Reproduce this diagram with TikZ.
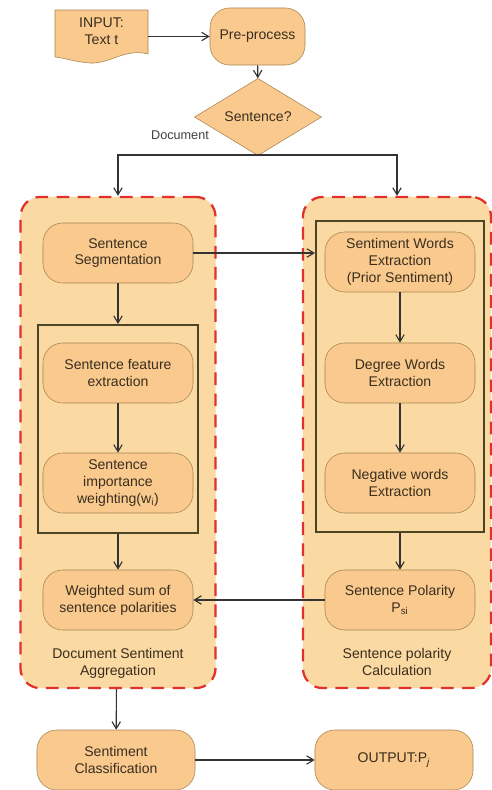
\documentclass[tikz,border=0pt]{standalone}
\usepackage{fontspec}
\setmainfont{Liberation Sans}
\usepackage{tikz}
\usetikzlibrary{arrows.meta,positioning,shapes.geometric,calc}
\usepackage{xcolor}
\definecolor{boxfill}{HTML}{F9C98E}
\definecolor{boxline}{HTML}{A98550}
\definecolor{grpfill}{HTML}{FBD9A2}
\definecolor{grpline}{HTML}{E0312B}
\definecolor{inline}{HTML}{4B4524}
\definecolor{txt}{HTML}{3A2E1E}

\begin{document}
\begin{tikzpicture}[x=0.025cm, y=-0.025cm,
        proc/.style={draw=boxline, rounded corners=14pt, fill=boxfill, minimum width=3.75cm, minimum height=1.5cm, align=center, font=\fontsize{10}{12}\selectfont, text=txt, inner sep=2pt},
        group/.style={draw=grpline, line width=1.6pt, dash pattern=on 9pt off 6pt, rounded corners=14pt, fill=grpfill},
        inbox/.style={draw=inline, line width=1.4pt},
        decision/.style={draw=boxline, diamond, fill=boxfill, minimum width=3.175cm, minimum height=1.175cm, inner sep=0pt, text=txt, font=\fontsize{10}{12}\selectfont},
        grplabel/.style={align=center, text=txt, font=\fontsize{10}{12}\selectfont},
        arr/.style={-{Straight Barb[length=5pt,width=6pt]}, draw=black!80, line width=0.8pt}
    ]
    \useasboundingbox (0,0) rectangle (492,790);
    % Gruppi
    \node[group, minimum width=4.875cm, minimum height=12.275cm] (lgrp) at (118,442.5) {};
    \node[group, minimum width=4.7cm, minimum height=12.275cm] (rgrp) at (397,442.5) {};
    \node[inbox, minimum width=4cm, minimum height=5.2cm] (lin) at (118,429) {};
    \node[inbox, minimum width=4.2cm, minimum height=7.775cm] (rin) at (400,376.5) {};
    % Ingresso
    \fill[boxfill, draw=boxline] (55,10) -- (148,10) -- (148,54)
        .. controls (125,48) and (110,64) .. (90,63)
        .. controls (75,62) and (65,58) .. (55,57) -- cycle;
    \node[align=center, text=txt, font=\fontsize{10}{12}\selectfont, minimum width=2.325cm, minimum height=1.2cm] (input) at (101.5,31) {INPUT:\\Text t};
    \node[proc, minimum width=2.375cm, minimum height=1.425cm] (pre) at (257.5,36.5) {Pre-process};
    \node[decision] (dec) at (258,117) {Sentence?};
    \node[font=\fontsize{9}{11}\selectfont, text=black!75] (doc) at (180,135) {Document};
    \coordinate (split) at (258,155);
    % Sinistra
    \node[proc] (seg) at (118,253) {Sentence\\Segmentation};
    \node[proc] (feat) at (118,373) {Sentence feature\\extraction};
    \node[proc] (imp) at (118,483) {Sentence\\importance\\weighting(w\textsubscript{i})};
    \node[proc] (wsum) at (118,600) {Weighted sum of\\sentence polarities};
    \node[grplabel] (lname) at (118,663) {Document Sentiment\\Aggregation};
    % Destra
    \node[proc] (swe) at (400,262) {Sentiment Words\\Extraction\\(Prior Sentiment)};
    \node[proc] (dwe) at (400,373) {Degree Words\\Extraction};
    \node[proc] (nwe) at (400,483) {Negative words\\Extraction};
    \node[proc] (pol) at (400,600) {Sentence Polarity\\P\textsubscript{si}};
    \node[grplabel] (rname) at (397,662) {Sentence polarity\\Calculation};
    % Uscita
    \node[proc, minimum width=3.95cm] (cls) at (116,760) {Sentiment\\Classification};
    \node[proc, minimum width=3.95cm] (out) at (394,760) {OUTPUT:P\textsubscript{\textit{j}}};
    % Connessioni
    \draw[arr] (input.east |- pre.west) -- (pre.west);
    \draw[arr] (pre) -- (dec);
    \draw[arr] (dec.south) -- (split) -| (lgrp.north);
    \draw[arr] (split) -| (rgrp.north);
    \draw[arr] (seg) -- (lin);
    \draw[arr] (feat) -- (imp);
    \draw[arr] (lin) -- (wsum);
    \draw[arr] (seg.east) -- (seg.east -| rin.west);
    \draw[arr] (swe) -- (dwe);
    \draw[arr] (dwe) -- (nwe);
    \draw[arr] (rin) -- (pol);
    \draw[arr] (pol) -- (wsum);
    \draw[arr] (lgrp) -- (cls);
    \draw[arr] (cls) -- (out);
\end{tikzpicture}
\end{document}
